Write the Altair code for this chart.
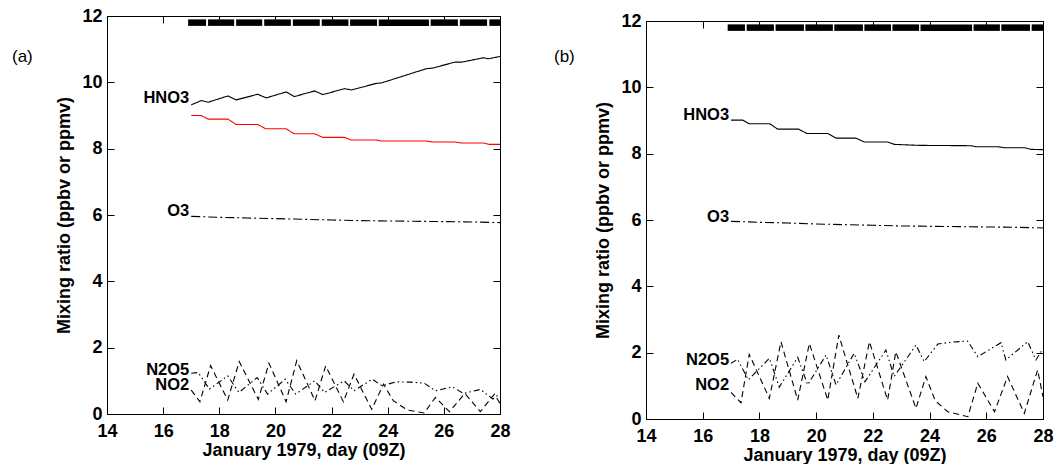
import altair as alt
import pandas as pd

FONT = "Liberation Sans"

# ---------------- Panel (a) ----------------
A_HNO3_DAY = [17.0, 17.36, 17.6, 18.31, 18.6, 19.37, 19.67, 20.38, 20.67, 21.39, 21.69,
              22.46, 22.7, 23.6, 23.77, 25.37, 25.6, 26.4, 26.64, 27.41, 27.59, 28.0]
A_HNO3_VAL = [9.32, 9.45, 9.40, 9.59, 9.47, 9.64, 9.53, 9.71, 9.57, 9.74, 9.63,
              9.81, 9.77, 9.97, 9.98, 10.41, 10.43, 10.61, 10.61, 10.74, 10.71, 10.78]

A_RED_DAY = [17.0, 17.36, 17.6, 18.31, 18.6, 19.37, 19.65, 20.38, 20.67, 21.39, 21.69,
             22.46, 22.7, 23.6, 23.77, 25.37, 25.6, 26.4, 26.64, 27.41, 27.6, 28.0]
A_RED_VAL = [9.0, 9.0, 8.89, 8.89, 8.73, 8.73, 8.60, 8.60, 8.45, 8.45, 8.34,
             8.34, 8.26, 8.26, 8.23, 8.23, 8.20, 8.20, 8.17, 8.17, 8.13, 8.13]

A_O3_DAY = [17.0, 18, 19, 20, 21, 22, 23, 24, 25, 26, 27, 28]
A_O3_VAL = [5.96, 5.93, 5.91, 5.89, 5.87, 5.85, 5.83, 5.82, 5.81, 5.80, 5.79, 5.77]

A_N2O5_DAY = [17.0, 17.25, 17.65, 18.3, 18.7, 19.35, 19.72, 20.35, 20.72, 21.4, 21.75,
              22.45, 22.8, 23.45, 23.8, 24.3, 24.8, 25.3, 25.7, 26.3, 26.7, 27.3, 27.75, 28.0]
A_N2O5_VAL = [1.23, 1.25, 0.75, 1.15, 0.65, 1.10, 0.60, 1.05, 0.60, 1.00, 0.65,
              1.00, 0.70, 1.05, 0.85, 0.97, 0.96, 0.93, 0.70, 0.82, 0.62, 0.74, 0.45, 0.62]

A_NO2_DAY = [17.0, 17.31, 17.69, 18.3, 18.71, 19.39, 19.77, 20.38, 20.76, 21.41, 21.79,
             22.42, 22.8, 23.43, 23.85, 24.2, 24.7, 25.3, 25.7, 26.2, 26.75, 27.3, 27.8, 28.0]
A_NO2_VAL = [0.72, 0.37, 1.46, 0.42, 1.58, 0.44, 1.53, 0.37, 1.61, 0.40, 1.45,
             0.37, 1.20, 0.14, 0.90, 0.40, 0.12, 0.03, 0.50, 0.07, 0.62, 0.07, 0.60, 0.32]

A_MARK_START = [16.89, 17.60, 18.60, 19.60, 20.62, 21.65, 22.66, 23.68, 25.53, 26.57, 27.62]
A_MARK_END = [17.53, 18.53, 19.53, 20.55, 21.58, 22.60, 23.62, 25.47, 26.50, 27.54, 28.0]

A_LABELS = ["HNO3", "O3", "N2O5", "NO2"]
A_LABEL_DAY = [16.93, 16.93, 16.93, 16.93]
A_LABEL_VAL = [9.52, 6.12, 1.34, 0.86]

# ---------------- Panel (b) ----------------
B_HNO3_DAY = [17.0, 17.41, 17.64, 18.37, 18.64, 19.38, 19.67, 20.41, 20.70, 21.40, 21.70,
              22.52, 22.76, 23.64, 25.46, 25.64, 26.4, 26.64, 27.34, 27.58, 28.0]
B_HNO3_VAL = [9.01, 9.01, 8.90, 8.90, 8.74, 8.74, 8.61, 8.61, 8.47, 8.47, 8.35,
              8.35, 8.28, 8.25, 8.24, 8.21, 8.21, 8.18, 8.18, 8.13, 8.12]

B_O3_DAY = [17.0, 18, 19, 20, 21, 22, 23, 24, 25, 26, 27, 28]
B_O3_VAL = [5.96, 5.93, 5.91, 5.88, 5.86, 5.84, 5.82, 5.81, 5.80, 5.79, 5.78, 5.76]

B_N2O5_DAY = [17.0, 17.23, 17.61, 18.35, 18.70, 19.35, 19.70, 20.35, 20.70, 21.34, 21.72,
              22.46, 22.75, 23.52, 23.81, 24.29, 24.8, 25.34, 25.70, 26.52, 26.69, 27.46, 27.75, 28.0]
B_N2O5_VAL = [1.68, 1.80, 1.18, 1.83, 0.96, 1.86, 1.03, 1.93, 1.03, 1.98, 1.12,
              2.08, 1.28, 2.23, 1.73, 2.26, 2.32, 2.35, 1.88, 2.30, 1.78, 2.33, 1.78, 2.12]

B_NO2_DAY = [17.0, 17.35, 17.64, 18.35, 18.76, 19.35, 19.76, 20.41, 20.80, 21.47, 21.88,
             22.52, 22.81, 23.52, 23.87, 24.2, 24.64, 25.35, 25.70, 26.29, 26.75, 27.34, 27.81, 28.0]
B_NO2_VAL = [0.80, 0.49, 1.95, 0.62, 2.33, 0.57, 2.28, 0.57, 2.53, 0.62, 2.33,
             0.57, 2.03, 0.32, 1.28, 0.55, 0.22, 0.07, 1.08, 0.22, 1.28, 0.17, 1.48, 0.67]

B_MARK_START = [16.88, 17.55, 18.57, 19.62, 20.64, 21.70, 22.69, 23.68, 25.55, 26.53, 27.60]
B_MARK_END = [17.49, 18.51, 19.57, 20.59, 21.65, 22.64, 23.63, 25.50, 26.48, 27.54, 28.0]

B_LABELS = ["HNO3", "O3", "N2O5", "NO2"]
B_LABEL_DAY = [16.93, 16.93, 16.93, 16.93]
B_LABEL_VAL = [9.17, 6.09, 1.79, 1.04]

MARK_LEVEL = 11.8
X_TICKS = [14, 16, 18, 20, 22, 24, 26, 28]
Y_TICKS = [0, 2, 4, 6, 8, 10, 12]

SOLID = [1, 0]
DASHDOT = [9, 3, 2, 3]
DASHDOTDOT = [6, 3, 1.5, 3, 1.5, 3]
DASHED = [6, 4]


def panel(series, m_start, m_end, lab, lab_day, lab_val, tag, tag_dx, width, height, top_gap):
    xs = alt.Scale(domain=[14, 28], nice=False, zero=False)
    ys = alt.Scale(domain=[0, 12], nice=False, zero=False, range=[height, top_gap])
    common = dict(tickSize=alt.ExprRef(expr="-7"), tickColor="black", domainColor="black",
                  domainWidth=1, tickWidth=1,
                  grid=False, labelFont=FONT, labelFontWeight="bold", labelColor="black",
                  labelFontSize=18, labelFlush=False, labelOverlap=False,
                  titleFont=FONT, titleFontWeight="bold", titleColor="black", titleFontSize=18)
    ax_bottom = alt.Axis(orient="bottom", values=X_TICKS, format="d", labelPadding=15,
                         title="January 1979, day (09Z)", titleY=36, titleBaseline="middle",
                         **common)
    ax_left = alt.Axis(orient="left", values=Y_TICKS, format="d", labelPadding=12,
                       title="Mixing ratio (ppbv or ppmv)", titleX=-42.5, titleBaseline="middle",
                       **common)
    ax_top = alt.Axis(orient="top", values=X_TICKS, labels=False, title=None,
                      offset=-top_gap, **common)
    ax_right = alt.Axis(orient="right", values=Y_TICKS, labels=False, title=None, **common)

    layers = []
    for i, (days, vals, color, dash) in enumerate(series):
        df = pd.DataFrame({"day": days, "v": vals})
        if i == 0:
            xa, ya = ax_bottom, ax_left
        elif i == 1:
            xa, ya = ax_top, ax_right
        else:
            xa, ya = None, None
        layers.append(
            alt.Chart(df).mark_line(color=color, strokeWidth=1.1, strokeDash=dash)
            .encode(x=alt.X("day:Q", scale=xs, axis=xa),
                    y=alt.Y("v:Q", scale=ys, axis=ya))
        )

    mk = pd.DataFrame({"s": m_start, "e": m_end, "y": [MARK_LEVEL] * len(m_start)})
    layers.append(
        alt.Chart(mk).mark_rule(color="black", strokeWidth=6.5, strokeCap="butt")
        .encode(x=alt.X("s:Q", scale=xs, axis=None), x2="e:Q",
                y=alt.Y("y:Q", scale=ys, axis=None))
    )

    ld = pd.DataFrame({"t": lab, "day": lab_day, "v": lab_val})
    layers.append(
        alt.Chart(ld).mark_text(align="right", baseline="middle", font=FONT,
                                fontWeight="bold", fontSize=16.5, color="black")
        .encode(x=alt.X("day:Q", scale=xs, axis=None),
                y=alt.Y("v:Q", scale=ys, axis=None), text="t:N")
    )

    td = pd.DataFrame({"t": [tag]})
    layers.append(
        alt.Chart(td).mark_text(align="left", baseline="middle", font=FONT,
                                fontSize=17, color="black")
        .encode(x=alt.value(tag_dx), y=alt.value(41), text="t:N")
    )
    # invisible anchor to fix the row's top offset
    layers.append(
        alt.Chart(td).mark_rule(strokeOpacity=0, strokeWidth=0.01)
        .encode(x=alt.value(0), x2=alt.value(1), y=alt.value(-16))
    )

    return alt.layer(*layers).resolve_axis(x="independent", y="independent").properties(
        width=width, height=height)


pa = panel(
    [(A_HNO3_DAY, A_HNO3_VAL, "black", SOLID),
     (A_RED_DAY, A_RED_VAL, "#ff0000", SOLID),
     (A_O3_DAY, A_O3_VAL, "black", DASHDOT),
     (A_N2O5_DAY, A_N2O5_VAL, "black", DASHDOTDOT),
     (A_NO2_DAY, A_NO2_VAL, "black", DASHED)],
    A_MARK_START, A_MARK_END, A_LABELS, A_LABEL_DAY, A_LABEL_VAL, "(a)", -95, 393, 398, 0)

pb = panel(
    [(B_HNO3_DAY, B_HNO3_VAL, "black", SOLID),
     (B_O3_DAY, B_O3_VAL, "black", DASHDOT),
     (B_N2O5_DAY, B_N2O5_VAL, "black", DASHDOTDOT),
     (B_NO2_DAY, B_NO2_VAL, "black", DASHED)],
    B_MARK_START, B_MARK_END, B_LABELS, B_LABEL_DAY, B_LABEL_VAL, "(b)", -92, 397, 403, 5)

chart = alt.hconcat(pa, pb, spacing=43).configure_view(stroke=None).properties(
    padding={"left": 12, "top": 0, "right": 0, "bottom": 0}, background="white")

chart.save("out.html", embed_options={"renderer": "svg", "actions": False})
